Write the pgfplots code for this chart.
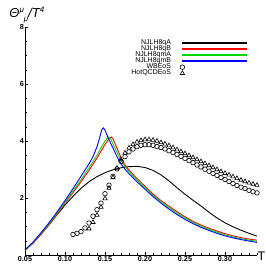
\documentclass[border=0pt]{standalone}
\usepackage{pgfplots}
\pgfplotsset{compat=1.18}
\usepackage{fontspec}
\setmainfont{Liberation Sans}
\definecolor{mgreen}{RGB}{0,215,0}
\pgfplotsset{
  lineleg/.style={legend image code/.code={\color{#1}\fill[#1] (0bp,-0.4bp) rectangle (64bp,0.4bp);}},
  markleg/.style={legend image code/.code={\draw[##1] plot coordinates {(0bp,0bp)};}},
}
\begin{document}
\begin{tikzpicture}
\begin{axis}[
  at={(25bp,11bp)}, anchor=south west, scale only axis,
  width=232bp, height=228bp,
  xmin=0.05, xmax=0.34, ymin=0, ymax=8,
  axis lines*=left,
  axis line style={line width=0.8bp},
  tick align=inside,
  major tick length=3bp, minor tick length=1.6bp,
  tick style={black, line width=0.5bp},
  xtick={0.05,0.10,0.15,0.20,0.25,0.30},
  xticklabels={0.05,0.10,0.15,0.20,0.25,0.30},
  minor xtick={0.06,0.07,0.08,0.09,0.11,0.12,0.13,0.14,0.16,0.17,0.18,0.19,0.21,0.22,0.23,0.24,0.26,0.27,0.28,0.29,0.31,0.32,0.33,0.34},
  ytick={2,4,6,8},
  minor ytick={0,0.5,1,1.5,2.5,3,3.5,4.5,5,5.5,6.5,7,7.5},
  /pgf/number format/assume math mode=true,
  ticklabel style={font=\bfseries\fontsize{7.3}{7.3}\selectfont},
  xticklabel style={inner sep=1bp, yshift=-0.5bp},
  yticklabel style={inner sep=1bp},
  every axis x label/.style={at={(axis description cs:1.0,-0.005)}, anchor=west, inner sep=0.5bp, font=\fontsize{12.5}{12.5}\selectfont},
  every axis y label/.style={at={(axis description cs:-0.082,1.053)}, anchor=west, font=\fontsize{13}{13}\selectfont},
  xlabel={T},
  ylabel={\itshape Θ\raisebox{0.8ex}{\fontsize{8}{8}\selectfont μ}\raisebox{-0.5ex}{\fontsize{8}{8}\selectfont μ}/T\raisebox{0.8ex}{\fontsize{8}{8}\selectfont 4}},
  legend plot pos=right,
  legend cell align=right,
  legend style={draw=none, fill=none, at={(0.957,0.943)}, anchor=north east,
    inner sep=0pt, row sep=0pt, column sep=9bp,
    font=\fontsize{7}{7}\selectfont,
    nodes={text height=4.6bp, text depth=1.2bp, inner sep=0.1bp}},
]
\addplot[lineleg=black, color=black, line width=0.9bp] coordinates {
(0.05,0.18)(0.06,0.43)(0.07,0.73)(0.08,1.06)(0.09,1.41)(0.10,1.75)(0.11,2.06)(0.12,2.34)(0.13,2.57)(0.14,2.75)(0.15,2.89)(0.16,2.99)(0.17,3.06)(0.18,3.10)(0.19,3.11)(0.20,3.07)(0.21,2.97)(0.22,2.81)(0.23,2.60)(0.24,2.36)(0.25,2.13)(0.26,1.92)(0.27,1.72)(0.28,1.50)(0.29,1.30)(0.30,1.13)(0.31,0.99)(0.32,0.87)(0.33,0.76)(0.34,0.66)};
\addlegendentry{NJLH8qA}
\addplot[lineleg=red, color=red, line width=0.9bp] coordinates {
(0.05,0.16)(0.06,0.41)(0.07,0.72)(0.08,1.06)(0.09,1.43)(0.10,1.81)(0.11,2.19)(0.12,2.57)(0.13,2.97)(0.14,3.40)(0.145,3.64)(0.15,3.88)(0.155,4.08)(0.158,4.14)(0.16,4.08)(0.165,3.75)(0.17,3.42)(0.175,3.17)(0.18,2.98)(0.185,2.83)(0.19,2.68)(0.20,2.41)(0.21,2.14)(0.22,1.91)(0.23,1.71)(0.24,1.52)(0.25,1.34)(0.26,1.18)(0.27,1.05)(0.28,0.94)(0.29,0.84)(0.30,0.75)(0.31,0.67)(0.32,0.61)(0.33,0.56)(0.34,0.52)};
\addlegendentry{NJLH8qB}
\addplot[lineleg=mgreen, color=mgreen, line width=0.9bp] coordinates {
(0.05,0.17)(0.06,0.43)(0.07,0.75)(0.08,1.09)(0.09,1.46)(0.10,1.85)(0.11,2.24)(0.12,2.64)(0.13,3.06)(0.14,3.50)(0.145,3.76)(0.15,4.00)(0.154,4.14)(0.157,4.08)(0.16,3.90)(0.165,3.60)(0.17,3.32)(0.175,3.10)(0.18,2.93)(0.185,2.78)(0.19,2.64)(0.20,2.37)(0.21,2.10)(0.22,1.87)(0.23,1.66)(0.24,1.47)(0.25,1.30)(0.26,1.14)(0.27,1.01)(0.28,0.90)(0.29,0.80)(0.30,0.71)(0.31,0.63)(0.32,0.57)(0.33,0.52)(0.34,0.48)};
\addlegendentry{NJLH8qmA}
\addplot[lineleg=blue, color=blue, line width=0.9bp] coordinates {
(0.05,0.18)(0.06,0.45)(0.07,0.78)(0.08,1.13)(0.09,1.51)(0.10,1.91)(0.11,2.33)(0.12,2.76)(0.13,3.20)(0.135,3.45)(0.14,3.80)(0.143,4.08)(0.146,4.40)(0.148,4.46)(0.15,4.38)(0.155,4.05)(0.16,3.75)(0.165,3.45)(0.17,3.20)(0.175,3.01)(0.18,2.85)(0.185,2.71)(0.19,2.57)(0.20,2.31)(0.21,2.05)(0.22,1.82)(0.23,1.61)(0.24,1.42)(0.25,1.25)(0.26,1.10)(0.27,0.97)(0.28,0.86)(0.29,0.76)(0.30,0.67)(0.31,0.60)(0.32,0.54)(0.33,0.49)(0.34,0.44)};
\addlegendentry{NJLH8qmB}
\addplot[markleg, only marks, mark=o, mark size=2.3bp, mark options={black, line width=0.6bp}] coordinates {
(0.110,0.72)(0.115,0.76)(0.120,0.82)(0.125,0.95)(0.130,1.12)(0.135,1.36)(0.140,1.59)(0.145,1.82)(0.150,2.15)(0.155,2.45)(0.160,2.76)(0.165,3.02)(0.170,3.28)(0.175,3.45)(0.180,3.62)(0.185,3.72)(0.190,3.80)(0.195,3.85)(0.200,3.87)(0.205,3.87)(0.210,3.85)(0.215,3.81)(0.220,3.77)(0.225,3.72)(0.230,3.66)(0.235,3.60)(0.240,3.53)(0.245,3.46)(0.250,3.39)(0.255,3.31)(0.260,3.24)(0.265,3.16)(0.270,3.09)(0.275,3.01)(0.280,2.94)(0.285,2.86)(0.290,2.79)(0.295,2.72)(0.300,2.65)(0.305,2.58)(0.310,2.51)(0.315,2.44)(0.320,2.38)(0.325,2.33)(0.330,2.27)(0.335,2.22)(0.340,2.18)};
\addlegendentry{WBEoS}
\addplot[markleg, only marks, mark=triangle, mark size=2.5bp, mark options={black, line width=0.6bp}] coordinates {
(0.130,0.92)(0.135,1.15)(0.140,1.40)(0.145,1.68)(0.150,1.98)(0.155,2.35)(0.160,2.72)(0.165,3.05)(0.170,3.35)(0.175,3.58)(0.180,3.76)(0.185,3.88)(0.190,3.97)(0.195,4.02)(0.200,4.05)(0.205,4.05)(0.210,4.03)(0.215,4.00)(0.220,3.95)(0.225,3.90)(0.230,3.84)(0.235,3.77)(0.240,3.70)(0.245,3.63)(0.250,3.56)(0.255,3.49)(0.260,3.42)(0.265,3.35)(0.270,3.28)(0.275,3.21)(0.280,3.14)(0.285,3.07)(0.290,3.00)(0.295,2.93)(0.300,2.87)(0.305,2.81)(0.310,2.75)(0.315,2.69)(0.320,2.63)(0.325,2.58)(0.330,2.53)(0.335,2.49)(0.340,2.45)};
\addlegendentry{HotQCDEoS}
\end{axis}
\pgfresetboundingbox
\path[use as bounding box] (0bp,0bp) rectangle (266bp,266bp);
\end{tikzpicture}
\end{document}
